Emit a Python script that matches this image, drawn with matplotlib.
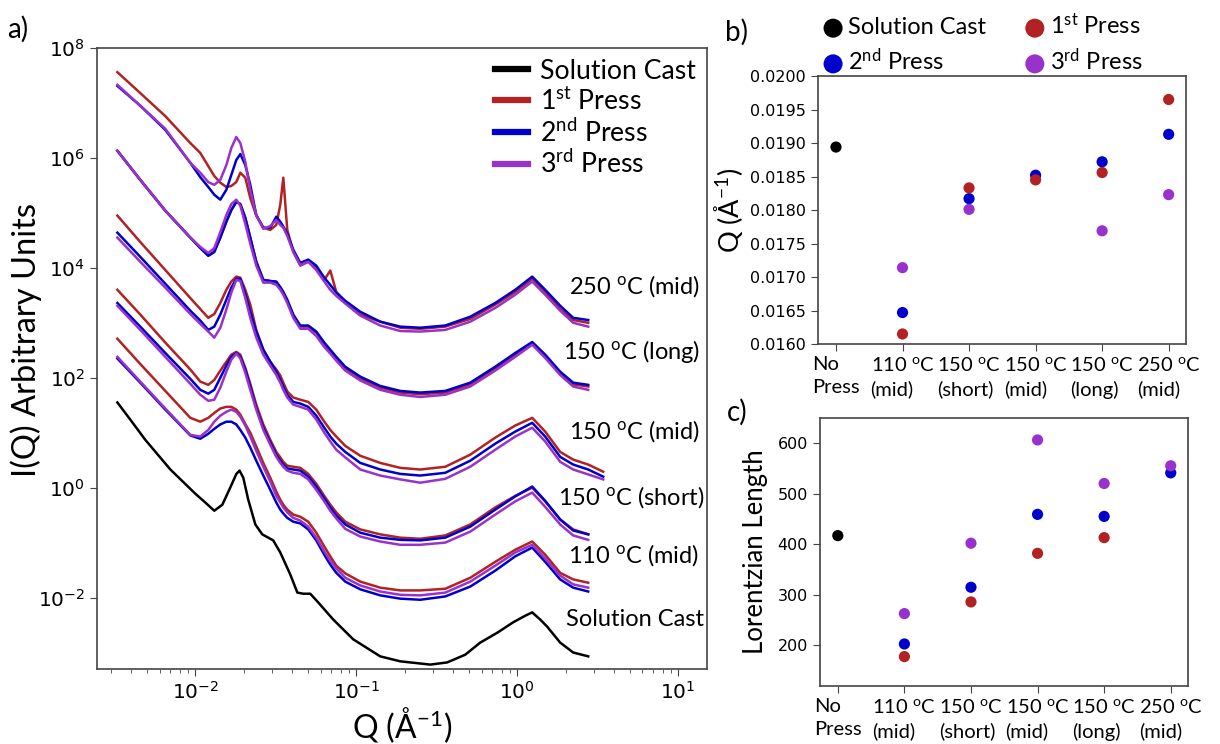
import matplotlib
matplotlib.use('Agg')
import matplotlib.pyplot as plt
import numpy as np
from matplotlib.ticker import LogLocator, NullLocator, FormatStrFormatter, FixedLocator

plt.rcParams['mathtext.fontset'] = 'custom'
plt.rcParams['mathtext.rm'] = 'Lato'
plt.rcParams['mathtext.it'] = 'Lato:italic'
plt.rcParams['mathtext.bf'] = 'Lato:bold'

TEXT_FONT = 'Lato'
RED = '#b22222'
BLUE = '#0000cd'
PURPLE = '#9932cc'
SPINE = '#444444'

# ---- scattering curves (Q in 1/A, intensity stored as log10 I) ----
q_grid = [0.00328, 0.00455, 0.00651, 0.00931, 0.01074, 0.01204, 0.01312, 0.01430, 0.01559, 0.01674,
          0.01797, 0.01904, 0.02044, 0.02195, 0.02392, 0.02645, 0.02923, 0.03185, 0.03373, 0.03521,
          0.03727, 0.04061, 0.04490, 0.05032, 0.05643, 0.06328, 0.06895, 0.07513, 0.08544, 0.1059,
          0.1409, 0.1876, 0.2497, 0.3571, 0.5106, 0.7303, 0.9719, 1.239, 1.492, 1.849,
          2.227, 2.761, 3.421]

cast_q = [0.00328, 0.00394, 0.00489, 0.00700, 0.0100, 0.01153, 0.01312, 0.01472, 0.01648, 0.01799,
          0.01884, 0.01986, 0.02133, 0.02360, 0.02606, 0.03048, 0.03373, 0.03890, 0.04305, 0.04688,
          0.05176, 0.05808, 0.07194, 0.09572, 0.1409, 0.1875, 0.2884, 0.3673, 0.4753, 0.5888,
          0.7516, 0.9441, 1.122, 1.239, 1.390, 1.535, 1.849, 2.228, 2.761]
cast_log = [1.55, 1.24, 0.87, 0.33, -0.11, -0.27, -0.42, -0.31, 0.00, 0.25,
            0.31, 0.18, -0.22, -0.67, -0.85, -0.96, -1.18, -1.58, -1.91, -1.93,
            -1.93, -2.09, -2.40, -2.76, -3.07, -3.16, -3.22, -3.18, -3.04, -2.82,
            -2.64, -2.45, -2.33, -2.27, -2.40, -2.53, -2.82, -3.00, -3.07]

mid110_red = [2.71, 2.25, 1.76, 1.27, 1.20, 1.27, 1.36, 1.44, 1.47, 1.47, 1.42, 1.33, 1.16, 1.00, 0.75,
              0.45, 0.18, -0.07, -0.22, -0.31, -0.40, -0.49, -0.53, -0.62, -0.82, -1.07, -1.25, -1.42,
              -1.56, -1.71, -1.82, -1.87, -1.87, -1.84, -1.64, -1.35, -1.13, -0.98, -1.22, -1.55, -1.67, -1.73]
mid110_blue = [2.35, 1.91, 1.42, 0.95, 0.89, 0.98, 1.07, 1.15, 1.20, 1.20, 1.15, 1.05, 0.91, 0.73, 0.49,
               0.22, -0.04, -0.27, -0.40, -0.47, -0.55, -0.62, -0.65, -0.76, -0.96, -1.22, -1.40, -1.55,
               -1.71, -1.85, -1.96, -2.02, -2.04, -1.98, -1.80, -1.51, -1.25, -1.09, -1.35, -1.67, -1.82, -1.89]
mid110_purple = [2.38, 1.93, 1.44, 0.96, 0.93, 1.05, 1.20, 1.31, 1.38, 1.42, 1.38, 1.29, 1.13, 0.93, 0.67,
                 0.38, 0.11, -0.15, -0.27, -0.36, -0.45, -0.55, -0.60, -0.71, -0.91, -1.16, -1.33, -1.47,
                 -1.64, -1.78, -1.89, -1.95, -1.96, -1.91, -1.71, -1.42, -1.18, -1.04, -1.29, -1.60, -1.76, -1.82]

short150_red = [3.60, 3.15, 2.64, 2.15, 1.93, 1.87, 1.96, 2.13, 2.29, 2.42, 2.47, 2.42, 2.18, 1.89, 1.51,
                1.15, 0.87, 0.65, 0.55, 0.47, 0.40, 0.38, 0.36, 0.25, 0.07, -0.15, -0.31, -0.45,
                -0.62, -0.76, -0.85, -0.91, -0.93, -0.87, -0.67, -0.36, -0.15, 0.00, -0.25, -0.58, -0.76, -0.85]
short150_blue = [3.36, 2.93, 2.45, 1.98, 1.78, 1.71, 1.78, 2.00, 2.22, 2.38, 2.45, 2.38, 2.15, 1.84, 1.45,
                 1.09, 0.82, 0.60, 0.49, 0.42, 0.35, 0.33, 0.31, 0.20, 0.02, -0.20, -0.36, -0.51,
                 -0.67, -0.82, -0.91, -0.95, -0.96, -0.91, -0.71, -0.40, -0.16, 0.02, -0.24, -0.58, -0.78, -0.85]
short150_purple = [3.31, 2.87, 2.38, 1.89, 1.69, 1.58, 1.60, 1.82, 2.11, 2.33, 2.44, 2.35, 2.09, 1.78, 1.42,
                   1.05, 0.78, 0.56, 0.45, 0.38, 0.31, 0.27, 0.25, 0.15, -0.04, -0.25, -0.42, -0.56,
                   -0.75, -0.89, -0.98, -1.04, -1.04, -1.00, -0.80, -0.49, -0.25, -0.09, -0.35, -0.67, -0.87, -0.95]

mid150_red = [4.95, 4.47, 3.96, 3.45, 3.25, 3.09, 3.16, 3.36, 3.60, 3.75, 3.84, 3.82, 3.60, 3.33, 2.87,
              2.51, 2.29, 2.15, 2.04, 1.91, 1.75, 1.64, 1.60, 1.56, 1.42, 1.20, 1.05, 0.93,
              0.76, 0.58, 0.45, 0.36, 0.33, 0.38, 0.60, 0.91, 1.13, 1.27, 1.02, 0.65, 0.51, 0.42, 0.29]
mid150_blue = [4.64, 4.20, 3.71, 3.22, 3.04, 2.87, 2.93, 3.15, 3.42, 3.64, 3.80, 3.80, 3.53, 3.20, 2.84,
               2.51, 2.29, 2.11, 1.96, 1.84, 1.69, 1.56, 1.53, 1.47, 1.31, 1.09, 0.93, 0.80,
               0.65, 0.45, 0.33, 0.25, 0.22, 0.27, 0.49, 0.80, 1.02, 1.18, 0.93, 0.56, 0.42, 0.33, 0.20]
mid150_purple = [4.55, 4.11, 3.64, 3.16, 2.98, 2.84, 2.73, 2.91, 3.24, 3.55, 3.78, 3.76, 3.45, 3.09, 2.73,
                 2.42, 2.22, 2.05, 1.91, 1.78, 1.64, 1.51, 1.47, 1.42, 1.24, 1.00, 0.84, 0.69,
                 0.55, 0.33, 0.22, 0.15, 0.09, 0.16, 0.38, 0.69, 0.93, 1.09, 0.84, 0.47, 0.33, 0.24, 0.15]

long150_red = [6.13, 5.60, 5.04, 4.55, 4.36, 4.22, 4.29, 4.55, 4.84, 5.05, 5.20, 5.16, 4.91, 4.55, 4.11,
               3.78, 3.76, 3.74, 3.64, 3.55, 3.40, 3.13, 2.93, 2.93, 2.82, 2.61, 2.48, 2.35,
               2.17, 1.99, 1.82, 1.73, 1.70, 1.73, 1.88, 2.17, 2.42, 2.62, 2.39, 2.08, 1.88, 1.84]
long150_blue = [6.13, 5.60, 5.04, 4.55, 4.36, 4.22, 4.29, 4.55, 4.84, 5.05, 5.20, 5.16, 4.91, 4.55, 4.11,
                3.78, 3.76, 3.75, 3.65, 3.56, 3.42, 3.15, 2.95, 2.95, 2.84, 2.64, 2.51, 2.38,
                2.20, 2.02, 1.85, 1.76, 1.73, 1.76, 1.91, 2.20, 2.45, 2.65, 2.42, 2.11, 1.91, 1.87]
long150_purple = [6.13, 5.60, 5.04, 4.55, 4.38, 4.27, 4.36, 4.65, 4.96, 5.16, 5.24, 5.13, 4.80, 4.44, 4.04,
                  3.73, 3.73, 3.69, 3.60, 3.51, 3.36, 3.09, 2.89, 2.89, 2.76, 2.56, 2.44, 2.31,
                  2.13, 1.95, 1.78, 1.69, 1.65, 1.69, 1.84, 2.13, 2.38, 2.60, 2.36, 2.05, 1.84, 1.78]

mid250_red = [7.56, 7.18, 6.76, 6.27, 6.09, 5.85, 5.67, 5.55, 5.47, 5.49, 5.56, 5.73, 5.64, 5.27, 4.95,
              4.73, 4.69, 4.78, 5.15, 5.64, 4.69, 4.29, 4.04, 4.11, 4.00, 3.78, 3.95, 3.56,
              3.38, 3.15, 3.02, 2.91, 2.89, 2.93, 3.07, 3.33, 3.56, 3.80, 3.56, 3.25, 3.05, 3.00]
mid250_blue = [7.31, 6.95, 6.51, 5.91, 5.65, 5.47, 5.33, 5.24, 5.42, 5.69, 5.96, 6.07, 5.87, 5.51, 4.96,
               4.73, 4.73, 4.93, 4.84, 4.75, 4.62, 4.33, 4.09, 4.15, 4.04, 3.82, 3.69, 3.55,
               3.40, 3.20, 3.02, 2.93, 2.91, 2.95, 3.11, 3.36, 3.60, 3.84, 3.60, 3.31, 3.09, 3.05]
mid250_purple = [7.33, 6.95, 6.53, 5.91, 5.73, 5.56, 5.51, 5.60, 5.87, 6.18, 6.38, 6.27, 5.93, 5.42, 4.96,
                 4.71, 4.76, 4.87, 4.78, 4.73, 4.58, 4.29, 4.05, 4.11, 3.96, 3.75, 3.60, 3.49,
                 3.35, 3.13, 2.95, 2.85, 2.84, 2.87, 3.02, 3.27, 3.51, 3.75, 3.51, 3.22, 3.00, 2.93]

# curve group labels: right edge (Q) and height (log10 I)
group_names = ['250 $^{\\rm o}$C (mid)', '150 $^{\\rm o}$C (long)', '150 $^{\\rm o}$C (mid)',
               '150 $^{\\rm o}$C (short)', '110 $^{\\rm o}$C (mid)', 'Solution Cast']
group_label_q = [13.6, 13.6, 13.6, 14.6, 13.4, 14.4]
group_label_log = [3.67, 2.48, 1.03, -0.18, -1.22, -2.40]

# ---- peak position and Lorentzian length per condition ----
conditions = ['No\nPress', '110 $^{\\rm o}$C\n(mid)', '150 $^{\\rm o}$C\n(short)',
              '150 $^{\\rm o}$C\n(mid)', '150 $^{\\rm o}$C\n(long)', '250 $^{\\rm o}$C\n(mid)']
peak_cast = [0.01894, np.nan, np.nan, np.nan, np.nan, np.nan]
peak_press1 = [np.nan, 0.01615, 0.01833, 0.01845, 0.01856, 0.01965]
peak_press2 = [np.nan, 0.01647, 0.01817, 0.01852, 0.01872, 0.01913]
peak_press3 = [np.nan, 0.01714, 0.01801, np.nan, 0.01769, 0.01823]

length_cast = [417, np.nan, np.nan, np.nan, np.nan, np.nan]
length_press1 = [np.nan, 178, 286, 382, 413, np.nan]
length_press2 = [np.nan, 203, 315, 459, 455, 541]
length_press3 = [np.nan, 263, 402, 606, 520, 555]

series_names = ['Solution Cast', '1$^{\\rm st}$ Press', '2$^{\\rm nd}$ Press', '3$^{\\rm rd}$ Press']


def style_box(ax):
    for sp in ax.spines.values():
        sp.set_color(SPINE)
        sp.set_linewidth(1.2)
    ax.tick_params(which='both', direction='out', color=SPINE)


fig = plt.figure(figsize=(12.2, 7.44), dpi=100)

# ---------------- a) ----------------
ax = fig.add_axes([0.0795, 0.1008, 0.5, 0.8347])
q = np.array(q_grid)
groups = [
    (mid110_red, mid110_blue, mid110_purple),
    (short150_red, short150_blue, short150_purple),
    (mid150_red, mid150_blue, mid150_purple),
    (long150_red, long150_blue, long150_purple),
    (mid250_red, mid250_blue, mid250_purple),
]
ax.plot(cast_q, np.power(10.0, cast_log), color='black', lw=1.8, label=series_names[0])
for i, (r, b, p) in enumerate(groups):
    for vals, col, name in ((r, RED, series_names[1]), (b, BLUE, series_names[2]), (p, PURPLE, series_names[3])):
        ax.plot(q[:len(vals)], np.power(10.0, vals), color=col, lw=1.8,
                label=name if i == 0 else None)

ax.set_xscale('log')
ax.set_yscale('log')
ax.set_xlim(0.00245, 15.1)
ax.set_ylim(10 ** -3.3, 1e8)
ax.yaxis.set_major_locator(FixedLocator([1e-2, 1e0, 1e2, 1e4, 1e6, 1e8]))
ax.yaxis.set_minor_locator(NullLocator())
ax.xaxis.set_minor_locator(LogLocator(base=10, subs=np.arange(2, 10)))
style_box(ax)
ax.tick_params(which='major', length=5, labelsize=14.5)
ax.tick_params(which='minor', length=3)
ax.set_xlabel('Q (Å$^{-1}$)', fontsize=23, family=TEXT_FONT, labelpad=2)
ax.set_ylabel('I(Q) Arbitrary Units', fontsize=23.5, family=TEXT_FONT)
ax.yaxis.set_label_coords(-0.09, 0.53)

for name, lq, ly in zip(group_names, group_label_q, group_label_log):
    ax.text(lq, 10 ** ly, name, ha='right', va='center', fontsize=17, family=TEXT_FONT)

leg = ax.legend(loc='upper right', bbox_to_anchor=(1.0, 1.0), frameon=False,
                prop={'family': TEXT_FONT, 'size': 19.2}, handlelength=1.25, handletextpad=0.45,
                labelspacing=0.15, borderaxespad=0.0)
for line in leg.get_lines():
    line.set_linewidth(4.5)

fig.text(0.0057, 0.961, 'a)', fontsize=20, family=TEXT_FONT, va='center')

# ---------------- b) and c) ----------------
xpos = np.arange(len(conditions))
ax_b = fig.add_axes([0.6705, 0.5376, 0.3016, 0.3602])
ax_c = fig.add_axes([0.672, 0.078, 0.3018, 0.3606])

for axx, data in ((ax_b, (peak_cast, peak_press2, peak_press1, peak_press3)),
                  (ax_c, (length_cast, length_press2, length_press1, length_press3))):
    handles = []
    for vals, col in zip(data, ('black', BLUE, RED, PURPLE)):
        handles.append(axx.scatter(xpos, vals, s=65, color=col, edgecolors='none', zorder=3))
    axx.set_xticks(xpos)
    axx.set_xticklabels(conditions, fontsize=14.5, family=TEXT_FONT, linespacing=1.45,
                        multialignment='left')
    axx.set_xlim(-0.27, 5.26)
    style_box(axx)
    axx.tick_params(axis='both', length=5)
    axx.tick_params(axis='y', labelsize=11.5)
    if axx is ax_b:
        b_handles = handles

ax_b.set_ylim(0.016, 0.020)
ax_b.set_yticks(np.arange(0.0160, 0.02001, 0.0005))
ax_b.yaxis.set_major_formatter(FormatStrFormatter('%.4f'))
ax_b.set_ylabel('Q (Å$^{-1}$)', fontsize=19.5, family=TEXT_FONT)
ax_b.yaxis.set_label_coords(-0.198, 0.5)

ax_c.set_ylim(120, 650)
ax_c.set_yticks([200, 300, 400, 500, 600])
ax_c.set_ylabel('Lorentzian Length', fontsize=18.5, family=TEXT_FONT)
ax_c.yaxis.set_label_coords(-0.141, 0.5)

fig.legend([b_handles[0], b_handles[1], b_handles[2], b_handles[3]],
           [series_names[0], series_names[2], series_names[1], series_names[3]],
           loc='upper left', bbox_to_anchor=(0.6664, 0.995), ncol=2, frameon=False,
           prop={'family': TEXT_FONT, 'size': 17}, markerscale=1.7, handlelength=0.9,
           handletextpad=0.2, columnspacing=1.6, labelspacing=0.39, borderaxespad=0.0)

fig.text(0.594, 0.957, 'b)', fontsize=20, family=TEXT_FONT, va='center')
fig.text(0.596, 0.446, 'c)', fontsize=20, family=TEXT_FONT, va='center')

fig.savefig('out.png', dpi=100)
